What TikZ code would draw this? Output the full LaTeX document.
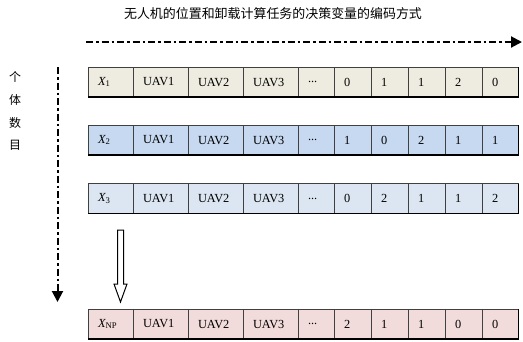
\documentclass[tikz,border=0pt]{standalone}
\usepackage{fontspec}
\setmainfont{Liberation Serif}
\newfontfamily\cjk{Noto Sans CJK SC}
\usetikzlibrary{arrows.meta}
\definecolor{bordc}{HTML}{404040}
\definecolor{rowa}{HTML}{EEECE1}
\definecolor{rowb}{HTML}{C6D9F1}
\definecolor{rowc}{HTML}{DCE6F2}
\definecolor{rowd}{HTML}{F2DCDB}
\tikzset{
  cell/.style={draw=bordc, line width=1bp, minimum height=30bp, inner ysep=0pt,
    inner xsep=10bp, outer sep=0pt, text width=#1, align=left, anchor=west,
    font=\fontsize{12.4}{14}\selectfont},
  dasharrow/.style={line width=2bp, dash pattern=on 7bp off 3bp on 2.5bp off 3bp,
    -{Triangle[length=11bp,width=11bp]}},
}
\newcommand\coderow[9]{%
  \node[cell=25bp, fill=#3] (#1x) at (88,#2+15) {#4};
  \node[cell=35bp, fill=#3] (#1u1) at (#1x.east) {UAV1};
  \node[cell=35bp, fill=#3] (#1u2) at (#1u1.east) {UAV2};
  \node[cell=35bp, fill=#3] (#1u3) at (#1u2.east) {UAV3};
  \node[cell=16bp, fill=#3] (#1d) at (#1u3.east) {...};
  \node[cell=17bp, fill=#3] (#1a) at (#1d.east) {#5};
  \node[cell=17bp, fill=#3] (#1b) at (#1a.east) {#6};
  \node[cell=17bp, fill=#3] (#1c) at (#1b.east) {#7};
  \node[cell=17bp, fill=#3] (#1e) at (#1c.east) {#8};
  \node[cell=16.5bp, fill=#3] (#1f) at (#1e.east) {#9};
  \draw[line width=1.8bp] (#1f.north east) -- (#1f.south east);
  \draw[line width=1.3bp] (#1x.south west) -- (#1f.south east);
}
\begin{document}
\begin{tikzpicture}[x=1bp,y=-1bp]
\useasboundingbox (0,0) rectangle (523,341);
\node[font=\cjk\fontsize{13}{15}\selectfont] (title) at (273,14) {无人机的位置和卸载计算任务的决策变量的编码方式};
\node[font=\cjk\fontsize{12}{23}\selectfont, align=center] (side) at (15,111) {个\\体\\数\\目};
\coordinate (hs) at (86,42);
\coordinate (he) at (522,42);
\draw[dasharrow] (hs) -- (he);
\coordinate (vs) at (57.5,67);
\coordinate (ve) at (57.5,302);
\draw[dasharrow] (vs) -- (ve);
\coderow{ra}{67}{rowa}{{\itshape X}\textsubscript{1}}{0}{1}{1}{2}{0}
\coderow{rb}{125}{rowb}{{\itshape X}\textsubscript{2}}{1}{0}{2}{1}{1}
\coderow{rc}{183.5}{rowc}{{\itshape X}\textsubscript{3}}{0}{2}{1}{1}{2}
\coderow{rd}{309}{rowd}{{\itshape X}\textsubscript{NP}}{2}{1}{1}{0}{0}
\coordinate (ha) at (120.5,230);
\coordinate (hb) at (120.5,302);
\draw[line width=1bp, fill=white] (ha) ++(-3,0) -- ++(0,54) -- ++(-3.5,0) -- (hb)
  -- ++(6.5,-18) -- ++(-3.5,0) -- ++(0,-54) -- cycle;
\end{tikzpicture}
\end{document}
